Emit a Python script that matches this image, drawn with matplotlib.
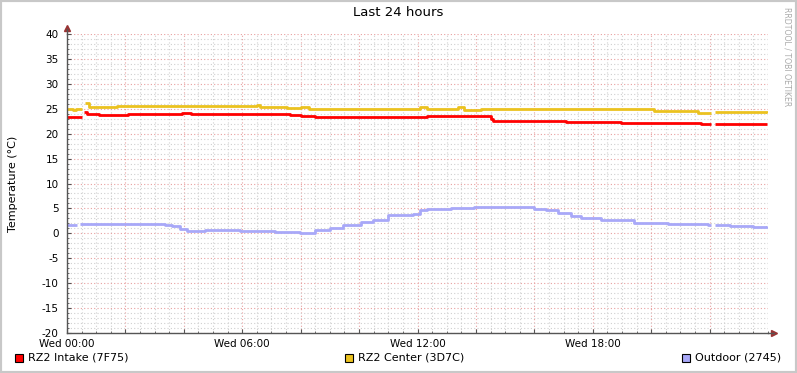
import numpy as np
import matplotlib
matplotlib.use("Agg")
import matplotlib.pyplot as plt
from matplotlib.patches import Rectangle
from matplotlib.ticker import MultipleLocator, FixedLocator

plt.rcParams["axes.unicode_minus"] = False

nan = np.nan

# hours since Wed 00:00, step values (drawn steps-post)
intake_t = [0, 0.42, 0.5, 0.58, 0.7, 1.1, 1.5, 2.1, 3.95, 4.25, 6.9, 7.65, 8.0, 8.5,
            10.2, 10.6, 12.34, 12.8, 13.37, 13.58, 14.5, 14.6, 17.07, 17.3, 18.96,
            21.7, 22.04, 22.2, 23.95]
intake_v = [23.35, 23.35, nan, 24.4, 24.0, 23.8, 23.8, 23.9, 24.15, 23.9, 23.9, 23.7, 23.5, 23.35,
            23.4, 23.35, 23.6, 23.5, 23.6, 23.45, 23.0, 22.55, 22.4, 22.25, 22.1,
            21.95, nan, 21.95, 21.95]

center_t = [0, 0.2, 0.3, 0.42, 0.51, 0.62, 0.75, 1.71, 6.5, 6.6, 7.54, 8.0, 8.3,
            12.1, 12.34, 13.37, 13.58, 14.16, 16.66, 20.09, 21.6, 22.04, 22.2, 23.95]
center_v = [24.95, 24.75, 24.95, 24.95, nan, 26.2, 25.4, 25.5, 25.7, 25.45, 25.2, 25.3, 25.05,
            25.3, 25.05, 25.35, 24.75, 24.95, 24.85, 24.45, 24.2, nan, 24.25, 24.2]

outdoor_t = [0, 0.34, 0.45, 3.36, 3.6, 3.87, 4.11, 4.73, 5.93, 7.13, 7.99, 8.5, 9.0,
             9.46, 10.05, 10.49, 11.0, 11.86, 12.1, 12.34, 13.13, 13.92, 15.63, 15.98,
             16.4, 16.8, 17.24, 17.59, 18.27, 19.4, 20.57, 21.94, 22.05, 22.2, 22.7,
             23.1, 23.5, 23.95]
outdoor_v = [1.75, nan, 1.87, 1.7, 1.4, 0.9, 0.5, 0.75, 0.5, 0.25, 0.1, 0.6, 1.1,
             1.6, 2.2, 2.75, 3.7, 3.9, 4.6, 4.95, 5.1, 5.3, 5.25, 4.9,
             4.7, 4.15, 3.5, 3.05, 2.6, 2.15, 1.8, 1.6, nan, 1.6, 1.45,
             1.55, 1.35, 1.4]

series = [
    ("RZ2 Intake (7F75)", intake_t, intake_v, "#FF0000"),
    ("RZ2 Center (3D7C)", center_t, center_v, "#EBC21F"),
    ("Outdoor (2745)", outdoor_t, outdoor_v, "#A8A8F8"),
]

x_ticks = [0, 6, 12, 18]
x_labels = ["Wed 00:00", "Wed 06:00", "Wed 12:00", "Wed 18:00"]

W, H = 797, 373
fig = plt.figure(figsize=(W / 100, H / 100), dpi=100)
fig.patch.set_facecolor("white")
ax = fig.add_axes([67 / W, 1 - 333 / H, 701 / W, 299 / H])

ax.set_xlim(0, 24)
ax.set_ylim(-20, 40)

# grid
major_x = list(range(0, 24, 2))
ax.xaxis.set_minor_locator(MultipleLocator(0.5))
ax.yaxis.set_minor_locator(MultipleLocator(1))
ax.xaxis.set_major_locator(FixedLocator(major_x))
ax.yaxis.set_major_locator(MultipleLocator(5))
ax.grid(which="minor", color="#d0d0d0", linestyle=(0, (1, 2)), linewidth=0.8)
ax.grid(which="major", color="#e8a0a0", linestyle=(0, (1, 2)), linewidth=0.8)
ax.set_axisbelow(True)

labels = {t: l for t, l in zip(x_ticks, x_labels)}
ax.set_xticklabels([labels.get(t, "") for t in major_x])

for name, t, v, c in series:
    ax.plot(t, v, drawstyle="steps-post", color=c, linewidth=2, solid_capstyle="butt")

for s in ["top", "right"]:
    ax.spines[s].set_visible(False)
for s in ["left", "bottom"]:
    ax.spines[s].set_color("#555555")
    ax.spines[s].set_linewidth(1)

ax.tick_params(which="both", direction="in", colors="#555555", labelcolor="black", labelsize=7.5)
ax.tick_params(which="major", length=3, pad=4)
ax.tick_params(which="minor", length=1.5)
ax.tick_params(axis="y", pad=6)

# axis arrows
ax.plot([0], [41.3], marker="^", color="#993333", markersize=4, clip_on=False)
ax.plot([24.2], [-20], marker=">", color="#993333", markersize=4, clip_on=False)
ax.plot([24, 24.2], [-20, -20], color="#555555", lw=1, clip_on=False)
ax.plot([0, 0], [40, 41], color="#555555", lw=1, clip_on=False)

ax.set_ylabel("Temperature (°C)", fontsize=8, va="center")
ax.yaxis.set_label_coords(-54 / 701, 0.5)

fig.text(787 / W, 1 - 57 / H, "RRDTOOL / TOBI OETIKER", rotation=270, ha="center",
         va="center", fontsize=5.6, color="#aaaaaa")
fig.text(398 / W, 1 - 13 / H, "Last 24 hours", ha="center", va="center", fontsize=9.5)

# legend
leg_x = [15, 345, 682]
for (name, t, v, c), lx in zip(series, leg_x):
    fig.patches.append(Rectangle((lx / W, 1 - 362 / H), 8 / W, 8 / H, transform=fig.transFigure,
                                 facecolor=c, edgecolor="black", linewidth=0.8))
    fig.text((lx + 13) / W, 1 - 358 / H, name, ha="left", va="center", fontsize=8)

# frame
fig.patches.append(Rectangle((0, 0), 1, 1, transform=fig.transFigure, fill=False,
                             edgecolor="#c8c8c8", linewidth=3))

fig.savefig("out.png", dpi=100)
